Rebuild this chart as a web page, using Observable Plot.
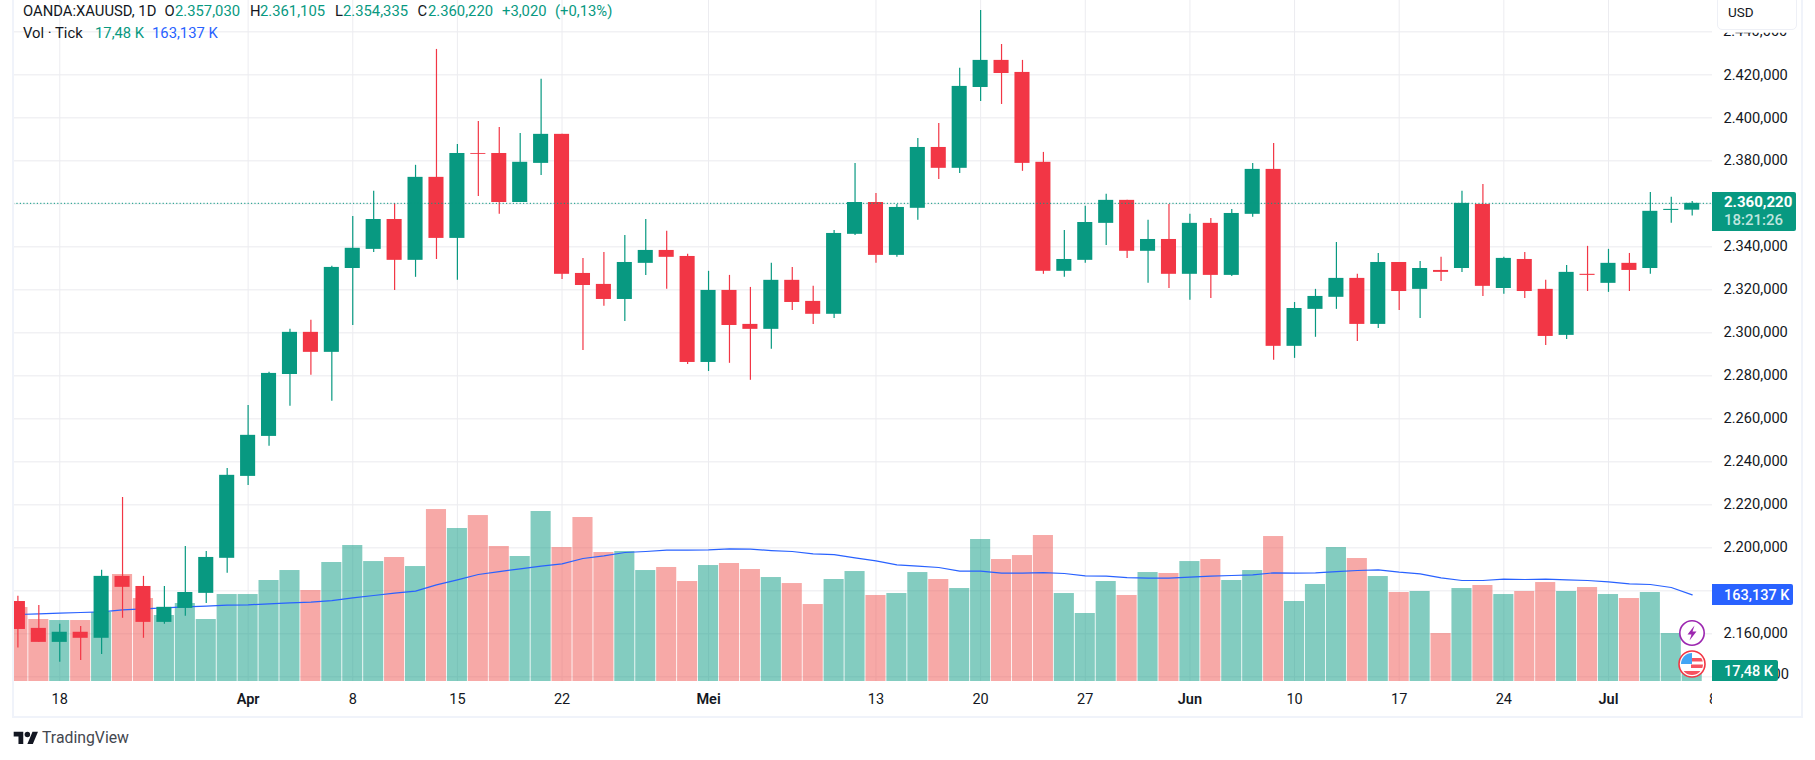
<!DOCTYPE html>
<html>
<head>
<meta charset="utf-8">
<script src="https://cdn.jsdelivr.net/npm/d3@7"></script>
<script src="https://cdn.jsdelivr.net/npm/@observablehq/plot@0.6"></script>
<style>
  html, body { margin: 0; padding: 0; background: #fff; }
  #wrap { position: relative; width: 1815px; height: 760px; overflow: hidden; font-family: Roboto, sans-serif; color: #131722; }
  #wrap svg { display: block; }
  .abs { position: absolute; white-space: nowrap; line-height: 1; }
  .hd { font-size: 14.8px; }
  .g { color: #089981; }
  .b { color: #2962FF; }
  .tag { position: absolute; color: #fff; font-size: 14.5px; font-weight: 500; box-sizing: border-box; border-radius: 0 2px 2px 0; }
</style>
</head>
<body>
<div id="wrap"></div>
<script>
const highs = [2177.4,2173.2,2164.4,2163.4,2189.5,2223.4,2186.7,2182.0,2200.6,2198.3,
2236.9,2266.2,2281.6,2301.6,2305.8,2330.9,2354.1,2365.8,2360.0,2377.9,
2431.8,2387.6,2398.3,2395.5,2392.7,2417.9,2392.3,2334.6,2337.4,2345.3,
2352.7,2347.2,2336.5,2328.6,2326.7,2321.1,2332.3,2330.4,2321.6,2347.6,
2378.8,2364.8,2359.7,2390.4,2397.4,2423.0,2449.9,2434.1,2426.7,2383.9,
2347.6,2358.8,2364.4,2361.6,2352.3,2359.7,2355.1,2353.2,2357.4,2378.8,
2388.1,2314.1,2320.2,2342.0,2327.2,2336.9,2332.7,2333.2,2335.1,2365.8,
2369.0,2335.1,2337.4,2324.4,2331.3,2340.2,2338.8,2336.9,2365.3,2363.0,2361.105];
const opens = [2175.0,2162.5,2156.0,2160.7,2157.9,2186.7,2182.0,2165.3,2171.8,2178.8,
2195.1,2233.2,2251.8,2280.6,2300.2,2290.9,2329.9,2338.8,2352.7,2333.7,
2372.3,2343.9,2383.4,2383.4,2360.6,2378.8,2392.3,2327.6,2322.5,2315.5,
2332.3,2338.3,2335.5,2286.2,2319.7,2303.9,2301.6,2324.4,2314.6,2308.6,
2345.8,2360.6,2336.0,2357.9,2386.2,2376.5,2414.1,2426.7,2421.1,2379.3,
2328.6,2333.7,2350.9,2361.6,2337.9,2343.4,2327.2,2350.9,2326.7,2355.1,
2376.0,2293.7,2310.9,2316.5,2325.3,2303.9,2332.7,2320.2,2329.0,2329.9,
2359.7,2320.6,2334.1,2320.2,2298.8,2327.2,2323.0,2332.3,2329.9,2356.9,2357.03];
const closes = [2162.0,2156.0,2160.7,2157.9,2186.7,2181.6,2165.3,2172.3,2179.2,2195.5,
2233.7,2252.3,2281.1,2300.2,2290.9,2330.4,2339.3,2352.7,2333.7,2372.3,
2343.9,2383.4,2383.0,2360.6,2379.3,2392.3,2327.2,2322.0,2315.5,2332.7,
2338.3,2335.1,2286.2,2319.7,2303.4,2301.6,2324.4,2314.1,2308.6,2346.2,
2360.6,2336.0,2358.3,2386.2,2376.5,2414.6,2426.7,2420.6,2378.8,2328.6,
2334.1,2351.3,2361.6,2337.9,2343.4,2327.2,2350.9,2326.7,2355.5,2376.0,
2293.7,2311.3,2316.9,2325.3,2303.9,2332.7,2319.2,2329.9,2328.1,2360.2,
2321.6,2334.6,2319.2,2298.3,2328.1,2326.7,2332.3,2329.0,2356.5,2357.4,2360.22];
const lows = [2153.4,2156.0,2146.7,2147.6,2150.4,2167.2,2157.9,2164.4,2168.1,2174.1,
2188.1,2229.0,2247.2,2265.8,2280.2,2268.1,2303.4,2337.4,2319.7,2325.8,
2334.1,2324.4,2363.4,2355.1,2360.6,2373.2,2324.8,2291.8,2312.3,2305.3,
2326.7,2320.2,2285.3,2282.0,2285.8,2277.9,2292.3,2310.4,2303.9,2306.7,
2345.3,2332.3,2335.1,2352.3,2371.3,2374.1,2407.6,2406.2,2375.1,2327.2,
2325.8,2332.3,2340.6,2334.6,2323.0,2320.6,2315.1,2316.0,2326.2,2353.7,
2287.2,2288.1,2297.9,2310.9,2296.0,2302.0,2310.4,2306.7,2323.9,2328.1,
2316.9,2317.9,2316.0,2294.1,2296.9,2319.2,2318.8,2319.2,2327.2,2350.9,2354.335];
const volumes = [139.3,116.7,114.8,114.8,129.9,201.4,156.2,124.2,146.8,116.7,
163.7,163.7,190.1,208.9,171.3,224,256,225.8,233.4,216.4,
323.7,288,312.4,254.1,235.3,320,252.2,308.7,242.8,244.7,
208.9,214.6,188.2,218.3,222.1,210.8,195.7,184.4,144.9,192,
207,161.9,165.6,205.1,192,175,267.3,229.6,237.1,274.8,
165.6,128,188.2,161.9,205.1,203.3,225.8,229.6,190.1,208.9,
272.9,150.6,182.6,252.2,231.5,197.6,167.5,169.4,90.3,175,
180.7,163.7,169.4,186.3,169.4,176.9,163.7,156.2,167.5,90.3,17.48];
const volumeMA = [126.1,127.4,128.6,129.9,131.1,134.9,136.8,138.6,140.5,141.8,
143.7,144.3,146.2,148.1,149.3,152.4,157.5,161.9,166.2,170,
181.9,191.3,201.4,207,212,217.1,221.5,231.5,236.5,242.8,
244.7,247.2,247.2,247.8,249.7,249.1,246.5,244.7,240.3,239,
232.7,227.1,219.6,217.1,214.6,207.7,207.7,203.9,203.9,205.1,
203.3,198.9,198.2,195.7,194.5,194.5,196.4,198.2,199.5,200.8,
204.5,203.9,204.5,207,208.9,210.2,205.8,202.6,195.1,190.1,
190.1,192.6,192,192.6,191.3,190.1,187.6,183.8,182.6,176.9,163.137];
const dayTickIndex = [2,16,21,26,41,46,51,61,66,71,81];
const dayTickLabels = ["18","8","15","22","13","20","27","10","17","24","8"];
const monthTickIndex = [11,33,56,76];
const monthTickLabels = ["Apr","Mei","Jun","Jul"];
const priceGrid = [2140,2160,2180,2200,2220,2240,2260,2280,2300,2320,2340,2360,2380,2400,2420,2440];
const priceLabels = [2160,2200,2220,2240,2260,2280,2300,2320,2340,2380,2400,2420];
const lastPrice = 2360.22;

const UP = "#089981", DOWN = "#F23645", VOL_DOWN = "#EF5350", MA = "#2962FF", GRID = "#f1f1f4";
const volBasePrice = 2137.8, pricePerK = 0.2471;
const volY = v => volBasePrice + v * pricePerK;
const priceLabel = p => `${Math.floor(p / 1000)}.${String(p % 1000).padStart(3, "0")},000`;

const bars = highs.map((h, i) => ({i, h, o: opens[i], c: closes[i], l: lows[i], v: volumes[i], m: volumeMA[i],
  col: closes[i] >= opens[i] ? UP : DOWN, vcol: closes[i] >= opens[i] ? UP : VOL_DOWN}));
const tickText = (idx, labels) => t => labels[idx.indexOf(t)];

const chart = Plot.plot({
  width: 1815, height: 760,
  marginLeft: 13, marginRight: 103, marginTop: 0, marginBottom: 79,
  style: {fontFamily: "Roboto, sans-serif", fontSize: "14.5px", color: "#131722", background: "transparent"},
  x: {domain: [-0.21, 80.97], axis: null},
  y: {domain: [volBasePrice, 2454.56], axis: null},
  marks: [
    Plot.gridY(priceGrid, {stroke: GRID, strokeOpacity: 1, strokeWidth: 1.4}),
    Plot.gridX([...dayTickIndex.slice(0, -1), ...monthTickIndex], {stroke: "#ececf0", strokeOpacity: 1, strokeWidth: 1}),
    Plot.rect(bars, {x1: d => d.i - 0.48, x2: d => d.i + 0.48, y1: volBasePrice, y2: d => volY(d.v),
      fill: "vcol", fillOpacity: 0.5, clip: true}),
    Plot.line(bars, {x: "i", y: d => volY(d.m), stroke: MA, strokeWidth: 1.2, clip: true}),
    Plot.ruleX(bars, {x: "i", y1: "l", y2: "h", stroke: "col", strokeWidth: 1.2, clip: true}),
    Plot.rect(bars, {x1: d => d.i - 0.36, x2: d => d.i + 0.36, y1: "o", y2: "c", fill: "col", clip: true}),
    Plot.ruleY([lastPrice], {stroke: UP, strokeWidth: 1, strokeDasharray: "1.2 2.2"}),
    Plot.axisY(priceLabels, {anchor: "right", tickSize: 0, tickPadding: 11, label: null, tickFormat: priceLabel, fontSize: 14.65}),
    Plot.axisX(dayTickIndex, {anchor: "bottom", tickSize: 0, tickPadding: 12, label: null, tickFormat: tickText(dayTickIndex, dayTickLabels), fontSize: 14.5}),
    Plot.axisX(monthTickIndex, {anchor: "bottom", tickSize: 0, tickPadding: 12, label: null, tickFormat: tickText(monthTickIndex, monthTickLabels), fontSize: 14.5, fontWeight: 600})
  ]
});

const wrap = document.getElementById("wrap");
wrap.appendChild(chart);
const yS = chart.scale("y");

function add(html, css, cls = "abs") {
  const d = document.createElement("div");
  d.className = cls; d.style.cssText = css; d.innerHTML = html;
  wrap.appendChild(d); return d;
}
// pane frame
add("", "left:12px;top:-2px;width:1787px;height:716px;border:2px solid #f0f3fa;");
// mask clipping the final date tick at the price scale
add("", "left:1712px;top:684px;width:80px;height:28px;background:#fff;");

// legend rows
const row1 = [["OANDA:XAUUSD, 1D",23,""],["O",164.5,""],["2.357,030",175,"g"],["H",250,""],["2.361,105",260,"g"],
  ["L",335,""],["2.354,335",343,"g"],["C",417.6,""],["2.360,220",428,"g"],["+3,020",502,"g"],["(+0,13%)",555,"g"]];
const row2 = [["Vol · Tick",23,""],["17,48 K",95,"g"],["163,137 K",152,"b"]];
row1.forEach(([t,x,c]) => add(t, `left:${x}px;top:4px;`, "abs hd " + c));
row2.forEach(([t,x,c]) => add(t, `left:${x}px;top:26px;`, "abs hd " + c));

// partial labels that peek out behind the USD box and the tags
add(priceLabel(2440), `left:1723px;top:${yS.apply(2440) - 7.5}px;font-size:14.65px;clip-path:inset(9px 0 0 0);`);
add(priceLabel(2140).slice(-2), `left:1772.5px;top:${yS.apply(2140) - 9.5}px;font-size:14.65px;`);

// USD box
add("USD", "left:1717px;top:-4px;width:80px;height:34px;box-sizing:border-box;background:#fff;border:1.5px solid #eef0f6;border-radius:5px;font-size:13.5px;padding:9px 0 0 10px;");

// price scale tags
const ly = yS.apply(lastPrice);
add(`<div style="padding-left:12px;line-height:18.5px;padding-top:1px;font-size:15px;font-weight:700">2.360,220<br><span style="font-weight:500;color:#bfe5df">18:21:26</span></div>`,
  `left:1712px;top:${ly - 11}px;width:84px;height:39px;background:${UP};`, "tag");
add(`<div style="padding:3px 0 0 12px;">163,137 K</div>`, `left:1712px;top:584px;width:81px;height:21px;background:${MA};`, "tag");
add(`<div style="padding:3px 0 0 12px;">17,48 K</div>`, `left:1712px;top:660px;width:66px;height:21px;background:${UP};`, "tag");

// event badges
add(`<svg width="30" height="30" viewBox="0 0 30 30"><circle cx="15" cy="15" r="12.2" fill="#fff" stroke="#9C27B0" stroke-width="1.6"/><path d="M17.5 7.5 10.5 16.5h4l-2 6 7-9h-4z" fill="#9C27B0"/></svg>`, "left:1677px;top:618px;");
add(`<svg width="30" height="30" viewBox="0 0 30 30"><defs><clipPath id="fc"><circle cx="15" cy="15" r="11"/></clipPath></defs><circle cx="15" cy="15" r="13" fill="#fff" stroke="#F23645" stroke-width="1.6"/><g clip-path="url(#fc)"><rect x="4" y="4" width="22" height="22" fill="#fff"/><rect x="14" y="9" width="12" height="3.5" fill="#F7525F"/><rect x="14" y="15.5" width="12" height="3.5" fill="#F7525F"/><rect x="4" y="22" width="22" height="4" fill="#F7525F"/><rect x="4" y="4" width="11" height="11" fill="#42A5F5"/></g></svg>`, "left:1677px;top:649px;");

// brand line
add(`<svg width="26" height="13" viewBox="0 3 36 19"><path fill="#131722" d="M14 22H7V11H0V4h14v18zM28 22h-8l7.5-18h8L28 22z"/><circle cx="20" cy="8" r="4" fill="#131722"/></svg>`, "left:13px;top:731px;");
add("TradingView", "left:42px;top:730px;font-size:15.8px;color:#44474f;");
</script>
</body>
</html>
